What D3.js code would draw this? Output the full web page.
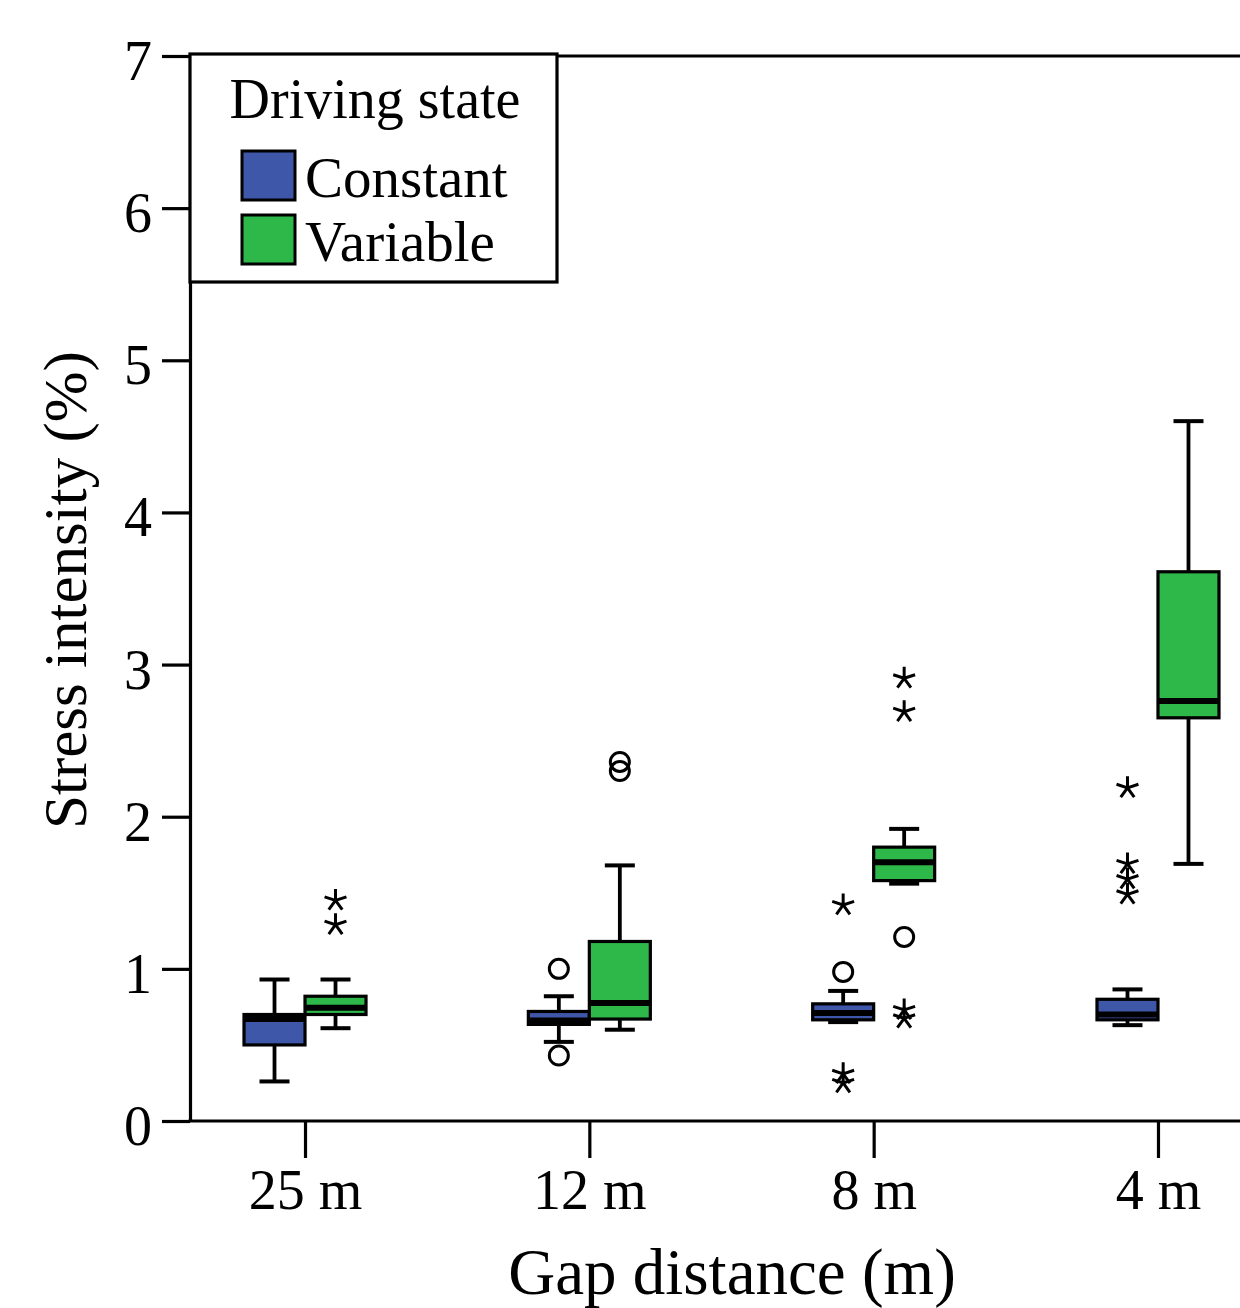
<html>
<head>
	<meta charset="utf-8">
	<title>stress intensity boxplot</title>
	<script src="https://d3js.org/d3.v7.min.js"></script>
	<style type="text/css">
		body{ margin:0; background:#fff; }
		svg text{ font-family:"Liberation Serif","Times New Roman",serif; fill:#000; }
		.axis path,
		.axis line{
			fill:none;
			stroke:#000;
			stroke-width:3.2px;
		}
		.axis text{ font-size:56px; }
	</style>
</head>
<body>
	<script type="text/javascript">

		var w = 1240;
		var h = 1308;

		// data
		var gaps = ["25 m", "12 m", "8 m", "4 m"];
		var states = ["Constant", "Variable"];
		var stateColors = ["#3E57A8", "#2EB84A"];
		var yTicks = [0, 1, 2, 3, 4, 5, 6, 7];

		// [lower whisker, Q1, median, Q3, upper whisker] per gap
		var constantBox = [
			[0.26, 0.50, 0.67, 0.70, 0.93],
			[0.52, 0.635, 0.66, 0.72, 0.82],
			[0.65, 0.665, 0.71, 0.77, 0.855],
			[0.63, 0.665, 0.70, 0.80, 0.865]
		];
		var variableBox = [
			[0.61, 0.70, 0.745, 0.82, 0.93],
			[0.60, 0.67, 0.775, 1.18, 1.68],
			[1.56, 1.58, 1.70, 1.80, 1.92],
			[1.69, 2.65, 2.76, 3.61, 4.60]
		];
		// outliers (circles) and extremes (stars)
		var constantCircles = [[], [0.43, 1.00], [0.98], []];
		var constantStars = [[], [], [1.42, 0.31, 0.25], [2.19, 1.69, 1.59, 1.49]];
		var variableCircles = [[], [2.30, 2.36], [1.21], []];
		var variableStars = [[1.29, 1.45], [], [2.91, 2.69, 0.73, 0.675], []];

		// build rows for drawing
		var boxes = [], circles = [], stars = [];
		[constantBox, variableBox].forEach(function(series, s){
			series.forEach(function(b, i){
				boxes.push({gap:gaps[i], state:states[s], lo:b[0], q1:b[1], med:b[2], q3:b[3], hi:b[4]});
			});
		});
		[constantCircles, variableCircles].forEach(function(series, s){
			series.forEach(function(list, i){
				list.forEach(function(v){ circles.push({gap:gaps[i], state:states[s], v:v}); });
			});
		});
		[constantStars, variableStars].forEach(function(series, s){
			series.forEach(function(list, i){
				list.forEach(function(v){ stars.push({gap:gaps[i], state:states[s], v:v}); });
			});
		});

		var plotLeft = 190, plotTop = 56, plotBottom = 1121;

		var xScale = d3.scalePoint()
			.domain(gaps)
			.range([plotLeft, 1273])
			.padding(0.4045);
		var sScale = d3.scaleBand()
			.domain(states)
			.range([-61, 61]);
		var yScale = d3.scaleLinear()
			.domain([0, 7])
			.range([plotBottom, plotTop]);
		var cScale = d3.scaleOrdinal()
			.domain(states)
			.range(stateColors);

		var svg = d3.select("body").append("svg")
			.attr("width", w)
			.attr("height", h);

		// frame top line
		svg.append("line")
			.attr("x1", plotLeft).attr("x2", w)
			.attr("y1", yScale(7)).attr("y2", yScale(7))
			.attr("stroke", "#000").attr("stroke-width", 3.2);

		// y axis
		var yAxis = d3.axisLeft(yScale)
			.tickValues(yTicks)
			.tickFormat(d3.format("d"))
			.tickSize(28)
			.tickSizeOuter(0)
			.tickPadding(10);
		var gy = svg.append("g")
			.attr("class", "axis")
			.attr("transform", "translate(" + plotLeft + ",0)")
			.call(yAxis);
		gy.selectAll("text").attr("dy", "0.42em");

		// x axis (domain runs off the right edge)
		var xAxis = d3.axisBottom(xScale)
			.tickSize(37)
			.tickSizeOuter(0)
			.tickPadding(11);
		var gx = svg.append("g")
			.attr("class", "axis")
			.attr("transform", "translate(0," + plotBottom + ")")
			.call(xAxis);
		gx.select("path.domain").remove();
		gx.append("line")
			.attr("x1", plotLeft - 1.5).attr("x2", w)
			.attr("y1", 0).attr("y2", 0);
		gx.selectAll("text").attr("font-size", "58px");

		// axis titles
		svg.append("text")
			.text("Gap distance (m)")
			.attr("x", 732)
			.attr("y", 1294)
			.attr("text-anchor", "middle")
			.attr("font-size", "65px");
		svg.append("text")
			.text("Stress intensity (%)")
			.attr("transform", "translate(86,590) rotate(-90)")
			.attr("text-anchor", "middle")
			.attr("font-size", "61px");

		function cx(d){ return xScale(d.gap) + sScale(d.state) + sScale.bandwidth() / 2; }

		// boxes
		var g = svg.append("g").attr("class", "boxes");
		var bg = g.selectAll("g").data(boxes).enter().append("g");

		// whisker stems
		bg.append("line")
			.attr("x1", cx).attr("x2", cx)
			.attr("y1", function(d){ return yScale(d.hi); })
			.attr("y2", function(d){ return yScale(d.lo); })
			.attr("stroke", "#000").attr("stroke-width", 3.8);
		// caps
		bg.selectAll("line.cap")
			.data(function(d){ return [{d:d, v:d.hi}, {d:d, v:d.lo}]; })
			.enter().append("line")
			.attr("class", "cap")
			.attr("x1", function(e){ return cx(e.d) - 15; })
			.attr("x2", function(e){ return cx(e.d) + 15; })
			.attr("y1", function(e){ return yScale(e.v); })
			.attr("y2", function(e){ return yScale(e.v); })
			.attr("stroke", "#000").attr("stroke-width", 4);
		// box
		bg.append("rect")
			.attr("x", function(d){ return xScale(d.gap) + sScale(d.state); })
			.attr("width", sScale.bandwidth())
			.attr("y", function(d){ return yScale(d.q3); })
			.attr("height", function(d){ return yScale(d.q1) - yScale(d.q3); })
			.attr("fill", function(d){ return cScale(d.state); })
			.attr("stroke", "#000").attr("stroke-width", 3.2);
		// median
		bg.append("line")
			.attr("x1", function(d){ return xScale(d.gap) + sScale(d.state); })
			.attr("x2", function(d){ return xScale(d.gap) + sScale(d.state) + sScale.bandwidth(); })
			.attr("y1", function(d){ return yScale(d.med); })
			.attr("y2", function(d){ return yScale(d.med); })
			.attr("stroke", "#000").attr("stroke-width", 6);

		// outlier circles
		svg.selectAll("circle.out")
			.data(circles).enter().append("circle")
			.attr("class", "out")
			.attr("cx", cx)
			.attr("cy", function(d){ return yScale(d.v); })
			.attr("r", 9.5)
			.attr("fill", "none")
			.attr("stroke", "#000").attr("stroke-width", 3);

		// extreme stars (5-armed asterisk)
		var starPath = d3.range(5).map(function(k){
			var a = (-90 + k * 72) * Math.PI / 180;
			return "M0,0L" + (11.5 * Math.cos(a)).toFixed(2) + "," + (11.5 * Math.sin(a)).toFixed(2);
		}).join("");
		svg.selectAll("path.star")
			.data(stars).enter().append("path")
			.attr("class", "star")
			.attr("d", starPath)
			.attr("transform", function(d){ return "translate(" + cx(d) + "," + yScale(d.v) + ")"; })
			.attr("fill", "none")
			.attr("stroke", "#000").attr("stroke-width", 3);

		// legend
		var lg = svg.append("g").attr("class", "legend");
		lg.append("rect")
			.attr("x", 190).attr("y", 54)
			.attr("width", 367).attr("height", 228)
			.attr("fill", "#fff")
			.attr("stroke", "#000").attr("stroke-width", 3.2);
		lg.append("text")
			.text("Driving state")
			.attr("x", 375).attr("y", 118)
			.attr("text-anchor", "middle")
			.attr("font-size", "56px");
		var items = lg.selectAll("g.item").data(states).enter().append("g")
			.attr("class", "item")
			.attr("transform", function(d, i){ return "translate(242," + (151 + i * 64) + ")"; });
		items.append("rect")
			.attr("width", 53).attr("height", 49)
			.attr("fill", function(d){ return cScale(d); })
			.attr("stroke", "#000").attr("stroke-width", 3);
		items.append("text")
			.text(function(d){ return d; })
			.attr("x", 63).attr("y", 46)
			.attr("font-size", "57px");
	</script>
</body>
</html>
